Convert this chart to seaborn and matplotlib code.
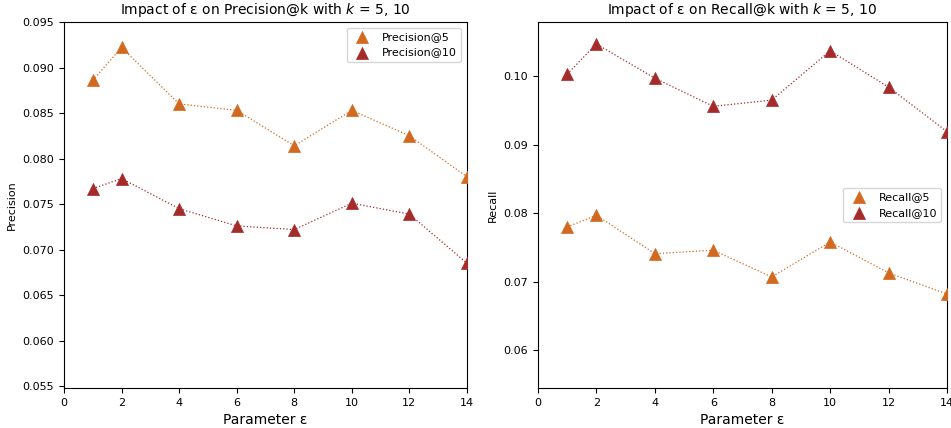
import matplotlib
matplotlib.use("Agg")
import matplotlib.pyplot as plt
import seaborn as sns
import pandas as pd

eps = [1, 2, 4, 6, 8, 10, 12, 14]
precision5 = [0.0886, 0.0922, 0.0860, 0.0853, 0.0814, 0.0853, 0.0825, 0.0780]
precision10 = [0.0767, 0.0778, 0.0745, 0.0726, 0.0722, 0.0751, 0.0739, 0.0685]
recall5 = [0.0780, 0.0797, 0.0741, 0.0746, 0.0707, 0.0758, 0.0713, 0.0682]
recall10 = [0.1003, 0.1047, 0.0997, 0.0956, 0.0965, 0.1037, 0.0984, 0.0919]

c5 = "#D2691E"
c10 = "#A52A2A"

sns.set_style("ticks")
plt.rcParams['font.family'] = ['DejaVu Sans']
plt.rcParams.update({
    'text.color': 'black', 'axes.labelcolor': 'black',
    'xtick.color': 'black', 'ytick.color': 'black', 'axes.edgecolor': 'black',
})

fig = plt.figure(figsize=(9.51, 4.28), dpi=100)
ax1 = fig.add_axes([0.0673, 0.0935, 0.4237, 0.8551])
ax2 = fig.add_axes([0.5657, 0.0935, 0.4301, 0.8551])

def draw(ax, y5, y10, lab5, lab10):
    df = pd.DataFrame({"eps": eps, "a": y5, "b": y10})
    sns.lineplot(data=df, x="eps", y="a", ax=ax, color=c5, linestyle=":", linewidth=0.9)
    sns.lineplot(data=df, x="eps", y="b", ax=ax, color=c10, linestyle=":", linewidth=0.9)
    sns.scatterplot(data=df, x="eps", y="a", ax=ax, color=c5, marker="^", s=75,
                    edgecolor=c5, linewidth=0.5, label=lab5, zorder=3)
    sns.scatterplot(data=df, x="eps", y="b", ax=ax, color=c10, marker="^", s=75,
                    edgecolor=c10, linewidth=0.5, label=lab10, zorder=3)
    ax.set_xlim(0, 14)
    ax.set_xticks([0, 2, 4, 6, 8, 10, 12, 14])
    ax.set_xlabel("Parameter ε", fontsize=10)
    ax.tick_params(labelsize=8, colors='black')
    for s in ax.spines.values():
        s.set_visible(True)
        s.set_linewidth(0.8)
        s.set_color('black')

draw(ax1, precision5, precision10, "Precision@5", "Precision@10")
ax1.set_ylim(0.0548, 0.095)
ax1.set_yticks([0.055, 0.060, 0.065, 0.070, 0.075, 0.080, 0.085, 0.090, 0.095])
ax1.yaxis.set_major_formatter(matplotlib.ticker.FormatStrFormatter('%.3f'))
ax1.set_ylabel("Precision", fontsize=8)
ax1.set_title("Impact of ε on Precision@k with $k$ = 5, 10", fontsize=10)
ax1.legend(loc="upper right", fontsize=8)

draw(ax2, recall5, recall10, "Recall@5", "Recall@10")
ax2.set_ylim(0.0545, 0.1079)
ax2.set_yticks([0.06, 0.07, 0.08, 0.09, 0.10])
ax2.yaxis.set_major_formatter(matplotlib.ticker.FormatStrFormatter('%.2f'))
ax2.set_ylabel("Recall", fontsize=8)
ax2.set_title("Impact of ε on Recall@k with $k$ = 5, 10", fontsize=10)
ax2.legend(loc="center right", fontsize=8)

fig.savefig("out.png", dpi=100)
